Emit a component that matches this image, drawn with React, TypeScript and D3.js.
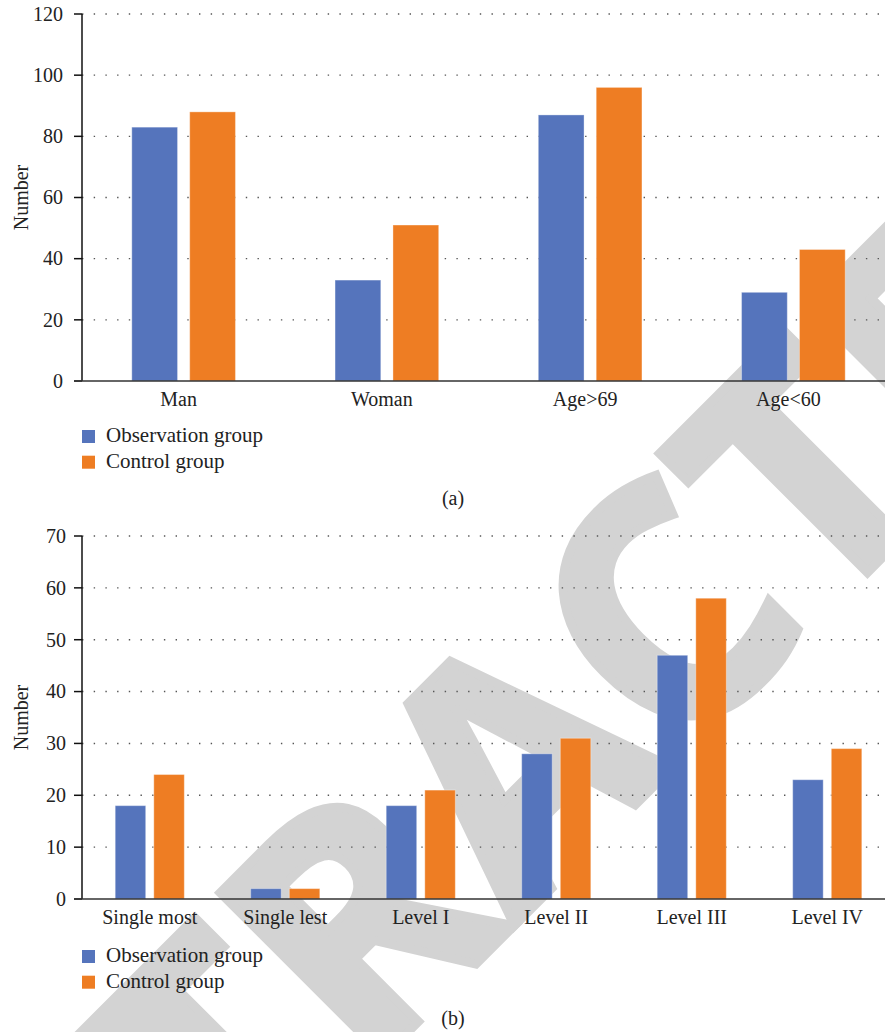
import React from "react";
import * as d3 from "d3";

// Panel (a): patient characteristics
const categoriesA = ["Man", "Woman", "Age>69", "Age<60"];
const observationA = [83, 33, 87, 29];
const controlA = [88, 51, 96, 43];
const ticksA = [0, 20, 40, 60, 80, 100, 120];

// Panel (b): lesion type and grade
const categoriesB = ["Single most", "Single lest", "Level I", "Level II", "Level III", "Level IV"];
const observationB = [18, 2, 18, 28, 47, 23];
const controlB = [24, 2, 21, 31, 58, 29];
const ticksB = [0, 10, 20, 30, 40, 50, 60, 70];

const seriesNames = ["Observation group", "Control group"];
const seriesColors = ["#5574BC", "#EE7D23"];

const WIDTH = 885;
const HEIGHT = 1032;
const SERIF = "'Liberation Serif', 'Times New Roman', serif";
const FONT_SIZE = 20;

type PanelProps = {
  categories: string[];
  obs: number[];
  ctrl: number[];
  ticks: number[];
  top: number;
  bottom: number;
  tickLabelX: number;
  labelDx: number;
  legendTop: number;
  caption: string;
  captionY: number;
};

function Panel(p: PanelProps) {
  const left = 82;
  const x = d3.scaleBand<string>().domain(p.categories).range([left, 895]).padding(0);
  const groupW = x.bandwidth() * 0.51;
  const inner = d3
    .scaleBand<string>()
    .domain(seriesNames)
    .range([-groupW / 2, groupW / 2])
    .paddingInner(0.21)
    .paddingOuter(0);
  const maxTick = p.ticks[p.ticks.length - 1];
  const y = d3.scaleLinear().domain([0, maxTick]).range([p.bottom, p.top]);
  const values = [p.obs, p.ctrl];

  return (
    <g>
      {/* dotted gridlines */}
      {p.ticks
        .filter((t) => t !== 0)
        .map((t) => (
          <line
            key={"g" + t}
            x1={left}
            x2={WIDTH}
            y1={y(t)}
            y2={y(t)}
            stroke="#555"
            strokeWidth={1.4}
            strokeDasharray="1.4 10.3"
          />
        ))}
      {/* bars */}
      {p.categories.map((c, i) => (
        <g key={c} transform={`translate(${x(c)! + x.bandwidth() / 2},0)`}>
          {seriesNames.map((s, k) => (
            <rect
              key={s}
              x={inner(s)!}
              width={inner.bandwidth()}
              y={y(values[k][i])}
              height={y(0) - y(values[k][i])}
              fill={seriesColors[k]}
              stroke="#ffffff"
              strokeOpacity={0.35}
              strokeWidth={1}
            />
          ))}
        </g>
      ))}
      {/* y axis */}
      <line x1={left} x2={left} y1={y(maxTick)} y2={y(0)} stroke="#111" strokeWidth={1.5} />
      {p.ticks.map((t) => (
        <g key={"t" + t}>
          <line x1={left - 8} x2={left} y1={y(t)} y2={y(t)} stroke="#111" strokeWidth={1.5} />
          <text
            x={p.tickLabelX}
            y={y(t)}
            dy="0.34em"
            textAnchor="end"
            fontFamily={SERIF}
            fontSize={FONT_SIZE}
            fill="#222"
          >
            {t}
          </text>
        </g>
      ))}
      {/* x axis */}
      <line x1={left - 8} x2={WIDTH} y1={y(0)} y2={y(0)} stroke="#333" strokeWidth={1.6} />
      {p.categories.map((c) => (
        <text
          key={"l" + c}
          x={x(c)! + x.bandwidth() / 2 + p.labelDx}
          y={y(0) + 25}
          textAnchor="middle"
          fontFamily={SERIF}
          fontSize={FONT_SIZE}
          fill="#222"
        >
          {c}
        </text>
      ))}
      {/* y title */}
      <text
        transform={`translate(28,${(p.top + p.bottom) / 2}) rotate(-90)`}
        textAnchor="middle"
        fontFamily={SERIF}
        fontSize={FONT_SIZE}
        fill="#222"
      >
        Number
      </text>
      {/* legend */}
      {seriesNames.map((s, k) => (
        <g key={"lg" + s} transform={`translate(${left},${p.legendTop + k * 25.7})`}>
          <rect x={0} y={0} width={13} height={13} fill={seriesColors[k]} />
          <text x={24} y={12} fontFamily={SERIF} fontSize={21} fill="#222">
            {s}
          </text>
        </g>
      ))}
      <text x={453} y={p.captionY} textAnchor="middle" fontFamily={SERIF} fontSize={FONT_SIZE} fill="#222">
        {p.caption}
      </text>
    </g>
  );
}

export default function App() {
  return (
    <svg
      width={WIDTH}
      height={HEIGHT}
      style={{ position: "absolute", left: 0, top: 0, background: "#fff" }}
    >
      <rect width={WIDTH} height={HEIGHT} fill="#fff" />
      {/* retraction watermark, behind the charts */}
      <text
        transform="translate(600,840) rotate(-45)"
        textAnchor="middle"
        fontFamily="'Open Sans', sans-serif"
        fontWeight={700}
        fontSize={324}
        fill="#d3d3d3"
        stroke="#d3d3d3"
        strokeWidth={9}
        strokeLinejoin="miter"
      >
        RETRACTED
      </text>
      <Panel
        categories={categoriesA}
        obs={observationA}
        ctrl={controlA}
        ticks={ticksA}
        top={14}
        bottom={381}
        tickLabelX={63}
        labelDx={-5}
        legendTop={430}
        caption="(a)"
        captionY={505}
      />
      <Panel
        categories={categoriesB}
        obs={observationB}
        ctrl={controlB}
        ticks={ticksB}
        top={536}
        bottom={899}
        tickLabelX={66}
        labelDx={0}
        legendTop={950}
        caption="(b)"
        captionY={1025}
      />
    </svg>
  );
}
